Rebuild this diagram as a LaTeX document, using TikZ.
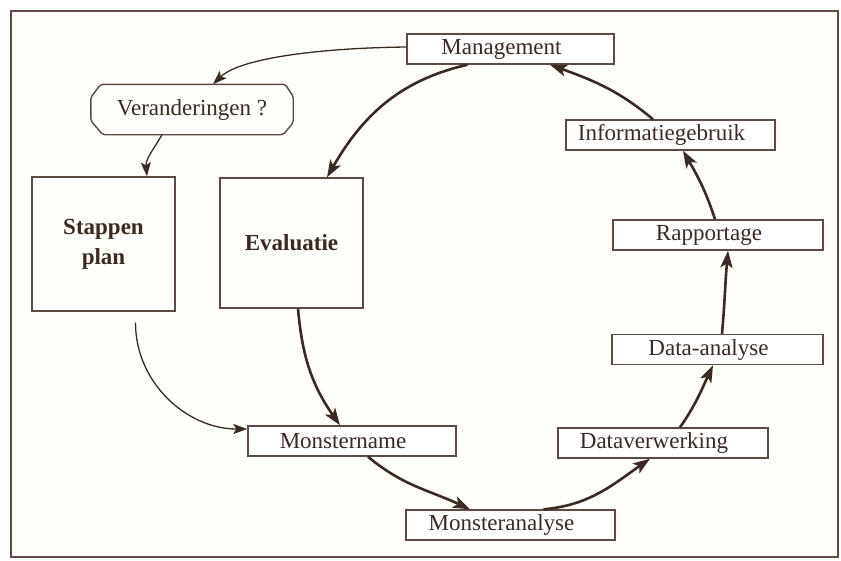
\documentclass[tikz,border=0pt]{standalone}
\usepackage{fontspec}
\setmainfont{Liberation Serif}
\usetikzlibrary{arrows.meta}
\definecolor{ink}{HTML}{3A2A24}
\definecolor{edge}{HTML}{5E4A44}
\definecolor{paper}{HTML}{FEFEFA}
% label sits a little left of the box centre
\newcommand\lefttext[1]{#1\kern18pt\relax}

\begin{document}
\begin{tikzpicture}[x=1pt,y=-1pt,
  every node/.style={font=\fontsize{23}{27}\selectfont, text=ink},
  stage/.style={draw=edge, line width=1.4pt, fill=white, minimum height=30pt, inner sep=0pt},
  bigbox/.style={draw=edge, line width=1.4pt, minimum width=143pt, inner sep=0pt,
                 font=\fontsize{23}{30}\selectfont\bfseries, align=center},
  loopedge/.style={draw=ink, line width=2.6pt, -{Stealth[length=17pt,width=12pt,inset=4pt]}},
  feed/.style={draw=ink, line width=1.3pt, -{Stealth[length=14pt,width=10pt,inset=3pt]}}]

\useasboundingbox (0,0) rectangle (841,560);
\fill[white] (0,0) rectangle (841,560);
\draw[edge, line width=1.5pt, fill=paper] (11,11) rectangle (838,557);

% left-hand blocks
\node[minimum width=202pt, minimum height=50pt, inner sep=0pt]
      (ver) at (192,109.5) {Veranderingen ?};
\draw[edge, line width=1.4pt, rounded corners=2pt]
  ([xshift=10pt]ver.north west) -- ([xshift=-8pt]ver.north east)
  -- ([yshift=-12pt]ver.north east) -- ([yshift=12pt]ver.south east)
  -- ([xshift=-10pt]ver.south east) -- ([xshift=12pt]ver.south west)
  -- ([yshift=14pt]ver.south west) -- ([yshift=-13pt]ver.north west) -- cycle;
\node[bigbox, minimum height=134pt] (stap) at (103.5,244) {Stappen\\plan};
\node[bigbox, minimum height=130pt] (eval) at (291.5,243) {Evaluatie};

% the monitoring cycle
\node[stage, minimum width=207pt] (mgmt)  at (510.5,49)  {\lefttext{Management}};
\node[stage, minimum width=209pt] (info)  at (670.5,135) {\lefttext{Informatiegebruik}};
\node[stage, minimum width=210pt] (rapp)  at (718,235)   {\lefttext{Rapportage}};
\node[stage, minimum width=211pt] (dana)  at (717.5,349.5) {\lefttext{Data-analyse}};
\node[stage, minimum width=210pt] (dverw) at (663,443)   {\lefttext{Dataverwerking}};
\node[stage, minimum width=209pt] (manal) at (510.5,525) {\lefttext{Monsteranalyse}};
\node[stage, minimum width=208pt] (mname) at (352,441)   {\lefttext{Monstername}};

% thin feedback connectors
\draw[feed] ([yshift=2pt]mgmt.west) .. controls (320,48) and (240,58) .. ([xshift=21pt]ver.north);
\draw[feed] ([xshift=-30pt]ver.south) to[out=240,in=95] ([xshift=43.5pt]stap.north);
\draw[feed] ([xshift=32pt,yshift=-11pt]stap.south) to[out=270,in=180] ([yshift=12pt]mname.west);

% thick cycle connectors
\draw[loopedge] ([xshift=-43pt]mgmt.south) to[out=193,in=60] ([xshift=35.5pt]eval.north);
\draw[loopedge] ([xshift=6.5pt]eval.south) to[out=275,in=125] ([xshift=-12pt]mname.north);
\draw[loopedge] ([xshift=16pt]mname.south) to[out=320,in=155] ([xshift=-40.5pt]manal.north);
\draw[loopedge] ([xshift=33pt]manal.north) to[out=5,in=215] ([xshift=-13pt]dverw.south);
\draw[loopedge] ([xshift=17pt]dverw.north) to[out=55,in=245] ([xshift=-4.5pt]dana.south);
\draw[loopedge] ([xshift=4.5pt]dana.north) to[out=85,in=265] ([xshift=10pt]rapp.south);
\draw[loopedge] ([xshift=-3pt]rapp.north) to[out=108,in=300] ([xshift=12.5pt]info.south);
\draw[loopedge] ([xshift=-17.5pt]info.north) to[out=140,in=340] ([xshift=39.5pt]mgmt.south);
\end{tikzpicture}
\end{document}
